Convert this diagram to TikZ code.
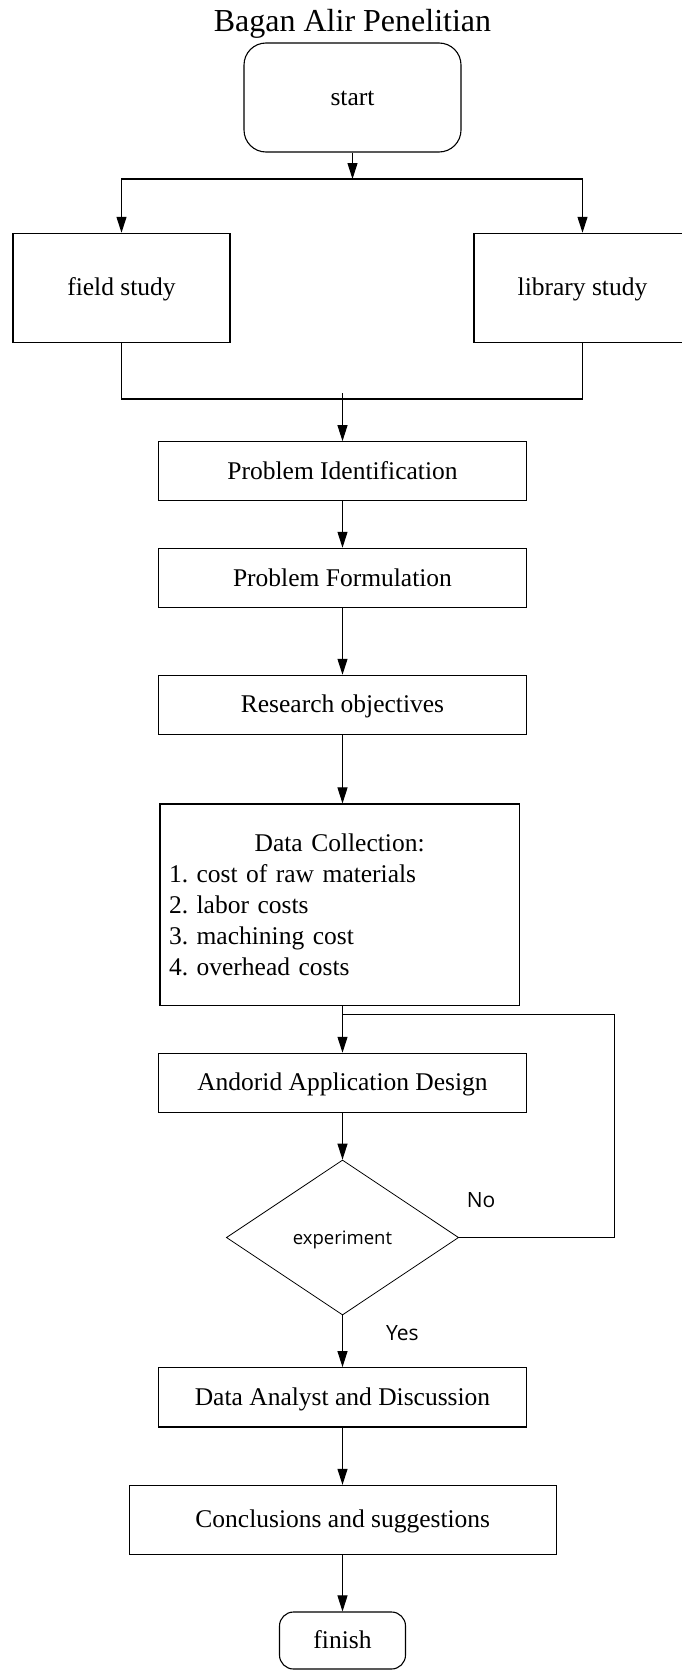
\documentclass[tikz,border=0pt]{standalone}
\usepackage{fontspec}
\setmainfont{Liberation Serif}
\newfontfamily\osans{Open Sans}
\usetikzlibrary{arrows.meta,shapes.geometric}
\frenchspacing
\begin{document}
\begin{tikzpicture}[x=1pt,y=-1pt,
  box/.style={draw=black,line width=1.1pt,rectangle,inner sep=0pt,
    font=\fontsize{25.5}{31}\selectfont,text height=20pt,text depth=4pt},
  arr/.style={line width=1pt,-{Triangle[length=16pt,width=10pt]}},
  ln/.style={line width=1.1pt},
  lbl/.style={font=\osans\fontsize{21}{25}\selectfont,inner sep=0pt,anchor=base west}
]
\fill[white] (0,0) rectangle (681,1670);
\useasboundingbox (0,0) rectangle (681,1670);

% title
\node[anchor=base,inner sep=0pt,font=\fontsize{32}{38}\selectfont] (title) at (352.5,32) {Bagan Alir Penelitian};

% nodes
\node[box,rounded corners=22pt,minimum width=217pt,minimum height=109pt] (start) at (352.5,97.5) {start};
\node[box,minimum width=217pt,minimum height=109pt] (field) at (121.5,287.8) {field study};
\node[box,minimum width=217pt,minimum height=109pt] (lib) at (582.5,287.8) {library study};
\node[box,minimum width=368.4pt,minimum height=59pt] (pi) at (342.5,471.2) {Problem Identification};
\node[box,minimum width=368.4pt,minimum height=59.4pt] (pf) at (342.5,578) {Problem Formulation};
\node[box,minimum width=368.4pt,minimum height=59pt] (ro) at (342.5,704.8) {Research objectives};
\node[draw=black,line width=1.1pt,inner xsep=9pt,inner ysep=0pt,minimum width=359.3pt,
  minimum height=201.7pt,text width=341.3pt,align=left,
  font=\fontsize{25.5}{31}\selectfont] (dc) at (339.65,904.85)
  {\makebox[341.3pt]{Data Collection:}\\1. cost of raw materials\\2. labor costs\\3. machining cost\\4. overhead costs};
\node[box,minimum width=368.4pt,minimum height=59pt] (aad) at (342.5,1082.8) {Andorid Application Design};
\node[draw=black,diamond,line width=0.8pt,inner sep=0pt,minimum width=232.3pt,minimum height=155pt,
  font=\osans\fontsize{18.5}{22}\selectfont,text height=14pt,text depth=0pt] (exp) at (342.5,1237.5) {experiment};
\node[box,minimum width=368.4pt,minimum height=59.3pt] (dad) at (342.5,1397.3) {Data Analyst and Discussion};
\node[box,minimum width=427pt,minimum height=68.7pt] (cs) at (342.8,1519.7) {Conclusions and suggestions};
\node[box,rounded corners=14pt,minimum width=126pt,minimum height=57pt] (fin) at (342.5,1640.5) {finish};

% labels
\node[lbl] (no) at (466.7,1207.7) {No};
\node[lbl] (yes) at (386,1340) {Yes};

% connectors
\coordinate (split) at (352.5,179);
\draw[arr] (start.south) -- (split);
\draw[arr,line width=1.1pt] (split) -| (field.north);
\draw[arr,line width=1.1pt] (split) -| (lib.north);

\coordinate (mL) at (121.5,399);
\coordinate (mR) at (582.5,399);
\coordinate (mC) at (342.5,393);
\draw[ln] (field.south) -- (mL) -- (mR) -- (lib.south);
\draw[arr] (mC) -- (pi.north);
\draw[arr] (pi.south) -- (pf.north);
\draw[arr] (pf.south) -- (ro.north);
\draw[arr] (ro.south) -- (ro.south |- dc.north);
\draw[arr] (dc.south -| aad.north) -- (aad.north);
\coordinate (loopTR) at (614.3,1014.7);
\draw[line width=1pt] (exp.east) -| (loopTR) -- (loopTR -| aad.north);
\draw[arr] (aad.south) -- (exp.north);
\draw[arr] (exp.south) -- (dad.north);
\draw[arr] (dad.south) -- (dad.south |- cs.north);
\draw[arr] (cs.south -| fin.north) -- (fin.north);
\end{tikzpicture}
\end{document}
